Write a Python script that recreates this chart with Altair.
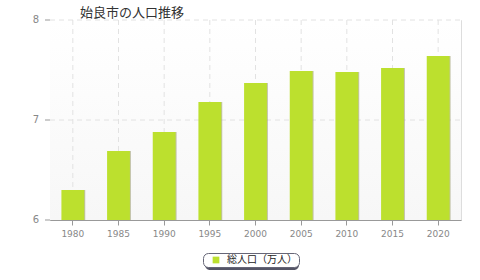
import altair as alt
import pandas as pd

years = ["1980", "1985", "1990", "1995", "2000", "2005", "2010", "2015", "2020"]
values = [6.30, 6.69, 6.88, 7.18, 7.37, 7.49, 7.48, 7.52, 7.64]
series_name = "総人口（万人）"
y_ticks = [6, 7, 8]
y_labels = ["6", "7", "8"]
title_text = "始良市の人口推移"

df = pd.DataFrame({"year": years, "value": values, "series": [series_name] * len(years)})
ytick_df = pd.DataFrame({"value": y_ticks, "label": y_labels})
grid_df = pd.DataFrame({"value": y_ticks[1:]})

W, H = 411, 200
FONT_NUM = "DejaVu Sans"
FONT_JP = "Noto Sans CJK JP"

xscale = alt.Scale(domain=years, paddingInner=0.5, paddingOuter=0.25)
yscale = alt.Scale(domain=[6, 8], zero=False, nice=False)

xaxis = alt.Axis(labelAngle=0, grid=False, bandPosition=0.5, tickSize=5, title=None,
                 domainColor="#999", tickColor="#999", labelColor="#888",
                 labelFont=FONT_NUM, labelFontSize=9, labelPadding=4)
yaxis = alt.Axis(labels=False, ticks=False, grid=False, title=None, domainColor="#999")


def X(field="year:N", **kw):
    return alt.X(field, scale=xscale, axis=xaxis, **kw)


def Y(field="value:Q"):
    return alt.Y(field, scale=yscale, axis=yaxis)


bg = alt.Chart(alt.Data(values=[{}])).mark_rect(
    fill=alt.Gradient(
        gradient="linear", x1=0, y1=0, x2=0, y2=1,
        stops=[alt.GradientStop(color="#ffffff", offset=0),
               alt.GradientStop(color="#f7f7f7", offset=1)],
    )
).encode(x=alt.value(0), x2=alt.value(W), y=alt.value(0), y2=alt.value(H))

vgrid = alt.Chart(df).mark_rule(color="#e2e2e2", strokeDash=[5, 4], strokeWidth=1).encode(
    x=X(bandPosition=0.5), y=alt.value(0), y2=alt.value(H),
)

hgrid = alt.Chart(grid_df).mark_rule(color="#e2e2e2", strokeDash=[5, 4], strokeWidth=1).encode(
    y=Y(), x=alt.value(0), x2=alt.value(W),
)

yticks = alt.Chart(ytick_df).mark_rule(color="#999", strokeWidth=1).encode(
    y=Y(), x=alt.value(-5), x2=alt.value(0),
)

ylabels = alt.Chart(ytick_df).mark_text(
    align="right", baseline="middle", font=FONT_NUM, fontSize=10, color="#888"
).encode(y=Y(), x=alt.value(-11), text="label:N")

shadow = alt.Chart(df).mark_bar(color="#9c9c70", opacity=0.6, xOffset=1).encode(
    x=X(), y=Y(), y2=alt.datum(6),
)

bars = alt.Chart(df).mark_bar().encode(
    x=X(), y=Y(), y2=alt.datum(6),
    color=alt.Color("series:N", scale=alt.Scale(range=["#bce02e"]), title=None,
                    legend=alt.Legend(orient="none", legendX=153, legendY=233,
                                      direction="horizontal", symbolType="square",
                                      symbolSize=45, symbolStrokeWidth=0,
                                      labelFont=FONT_JP, labelFontSize=10, labelColor="#222",
                                      fillColor="#ffffff", strokeColor="#667", cornerRadius=5,
                                      padding=2, symbolOffset=6, labelOffset=6)),
)

legend_shadow = alt.Chart(alt.Data(values=[{}])).mark_rect(fill="#556", cornerRadius=5).encode(
    x=alt.value(155), x2=alt.value(249), y=alt.value(235), y2=alt.value(250)
)

chart = alt.layer(bg, vgrid, hgrid, yticks, ylabels, shadow, legend_shadow, bars).properties(
    width=W, height=H,
    title=alt.TitleParams(title_text, anchor="start", frame="group", dx=30, offset=-5,
                          fontSize=13, font=FONT_JP, fontWeight="normal", color="#333"),
    autosize=alt.AutoSizeParams(type="none"),
    padding={"left": 50, "top": 20, "right": 19, "bottom": 60},
).configure_view(stroke="#ddd", strokeWidth=1)

chart.save("out.html", embed_options={"renderer": "svg", "actions": False})
